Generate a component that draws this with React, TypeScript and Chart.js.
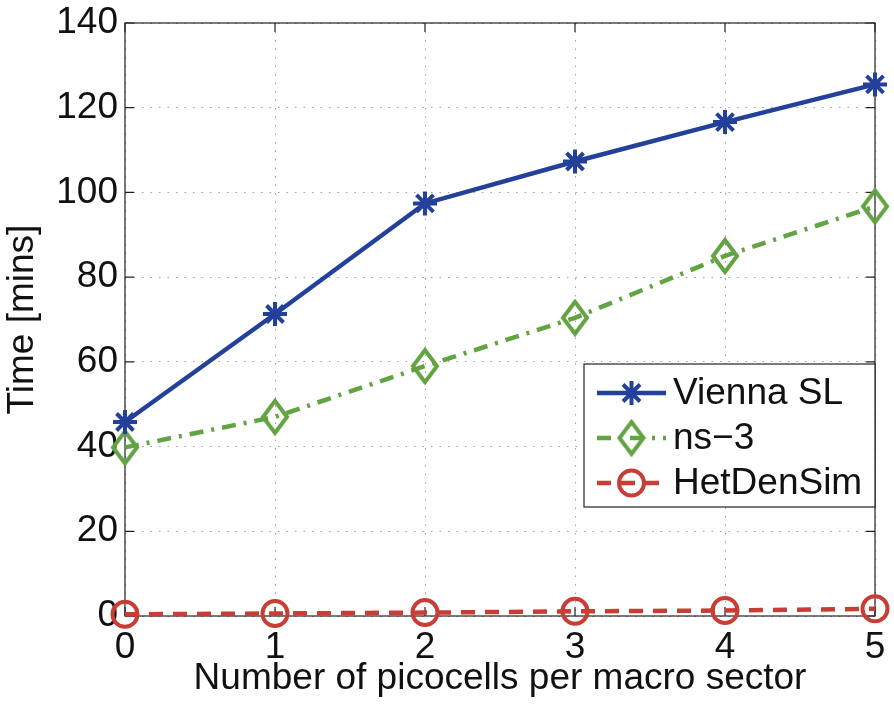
import React, { useEffect, useRef } from "react";
import { Chart, registerables } from "chart.js";

Chart.register(...registerables);

const xValues = [0, 1, 2, 3, 4, 5];
const viennaSL = [45.8, 71.3, 97.4, 107.3, 116.6, 125.5];
const ns3 = [39.8, 47.0, 59.0, 70.4, 85.0, 96.7];
const hetDenSim = [0.4, 0.6, 0.8, 1.1, 1.3, 1.7];
const seriesNames = ["Vienna SL", "ns\u22123", "HetDenSim"];

const FONT = "'Liberation Sans', Arial, Helvetica, sans-serif";
const FS = 37;
const BLUE = "rgb(35,64,155)";
const GREEN = "rgb(98,163,66)";
const RED = "rgb(200,62,52)";

function makeDiamond(color: string) {
  const c = document.createElement("canvas");
  const w = 30, h = 38;
  c.width = w;
  c.height = h;
  const ctx = c.getContext("2d")!;
  ctx.strokeStyle = color;
  ctx.lineWidth = 4;
  ctx.lineJoin = "miter";
  ctx.beginPath();
  ctx.moveTo(w / 2, 3);
  ctx.lineTo(w - 3, h / 2);
  ctx.lineTo(w / 2, h - 3);
  ctx.lineTo(3, h / 2);
  ctx.closePath();
  ctx.stroke();
  return c;
}

function drawMarker(ctx: CanvasRenderingContext2D, ds: any, x: number, y: number) {
  const style = ds.pointStyle;
  ctx.save();
  ctx.strokeStyle = ds.pointBorderColor;
  ctx.lineWidth = ds.pointBorderWidth;
  ctx.setLineDash([]);
  if (style instanceof HTMLCanvasElement) {
    ctx.drawImage(style, x - style.width / 2, y - style.height / 2);
  } else if (style === "circle") {
    ctx.beginPath();
    ctx.arc(x, y, ds.pointRadius, 0, Math.PI * 2);
    ctx.stroke();
  } else if (style === "star") {
    const r = ds.pointRadius;
    ctx.beginPath();
    for (let i = 0; i < 4; i++) {
      const a = (i * Math.PI) / 4;
      ctx.moveTo(x - Math.cos(a) * r, y - Math.sin(a) * r);
      ctx.lineTo(x + Math.cos(a) * r, y + Math.sin(a) * r);
    }
    ctx.stroke();
  }
  ctx.restore();
}

const framePlugin = {
  id: "frame",
  beforeDatasetsDraw(chart: any) {
    const { ctx, chartArea: a, scales } = chart;
    ctx.save();
    ctx.strokeStyle = "#222";
    ctx.lineWidth = 1.2;
    ctx.setLineDash([]);
    ctx.strokeRect(a.left, a.top, a.right - a.left, a.bottom - a.top);
    const tl = 9;
    ctx.beginPath();
    scales.x.ticks.forEach((t: any) => {
      const px = scales.x.getPixelForValue(t.value);
      ctx.moveTo(px, a.bottom);
      ctx.lineTo(px, a.bottom - tl);
      ctx.moveTo(px, a.top);
      ctx.lineTo(px, a.top + tl);
    });
    scales.y.ticks.forEach((t: any) => {
      const py = scales.y.getPixelForValue(t.value);
      ctx.moveTo(a.left, py);
      ctx.lineTo(a.left + tl, py);
      ctx.moveTo(a.right, py);
      ctx.lineTo(a.right - tl, py);
    });
    ctx.stroke();
    ctx.restore();
  },
};

const legendPlugin = {
  id: "boxLegend",
  afterDatasetsDraw(chart: any) {
    const { ctx, chartArea: a } = chart;
    const w = 291, h = 143;
    const x0 = a.right - w;
    const y0 = a.bottom - 109 - h;
    ctx.save();
    ctx.fillStyle = "#fff";
    ctx.fillRect(x0, y0, w, h);
    ctx.strokeStyle = "#222";
    ctx.lineWidth = 1.2;
    ctx.setLineDash([]);
    ctx.strokeRect(x0, y0, w, h);
    chart.data.datasets.forEach((ds: any, i: number) => {
      const cy = y0 + 29 + i * 45;
      const lx1 = x0 + 13, lx2 = x0 + 82;
      ctx.save();
      ctx.strokeStyle = ds.borderColor;
      ctx.lineWidth = ds.borderWidth;
      ctx.setLineDash(ds.borderDash || []);
      ctx.beginPath();
      ctx.moveTo(lx1, cy);
      ctx.lineTo(lx2, cy);
      ctx.stroke();
      ctx.restore();
      drawMarker(ctx, ds, (lx1 + lx2) / 2, cy);
      ctx.fillStyle = "#111";
      ctx.font = `${FS}px ${FONT}`;
      ctx.textBaseline = "middle";
      ctx.textAlign = "left";
      ctx.fillText(ds.label, x0 + 89, cy + 1);
    });
    ctx.restore();
  },
};

export default function App() {
  const ref = useRef<HTMLCanvasElement | null>(null);
  useEffect(() => {
    if (!ref.current) return;
    const toPts = (arr: number[]) => arr.map((y, i) => ({ x: xValues[i], y }));
    const chart = new Chart(ref.current, {
      type: "line",
      data: {
        datasets: [
          {
            label: seriesNames[0],
            data: toPts(viennaSL),
            borderColor: BLUE,
            borderWidth: 4.5,
            pointStyle: "star",
            pointRadius: 12,
            pointBorderWidth: 4,
            pointBorderColor: BLUE,
            pointBackgroundColor: BLUE,
          },
          {
            label: seriesNames[1],
            data: toPts(ns3),
            borderColor: GREEN,
            borderWidth: 4.5,
            borderDash: [14, 8, 3, 8],
            pointStyle: makeDiamond(GREEN) as any,
            pointRadius: 15,
            pointBorderWidth: 4,
            pointBorderColor: GREEN,
            pointBackgroundColor: "rgba(0,0,0,0)",
          },
          {
            label: seriesNames[2],
            data: toPts(hetDenSim),
            borderColor: RED,
            borderWidth: 4.5,
            borderDash: [14, 10],
            pointStyle: "circle",
            pointRadius: 12.5,
            pointBorderWidth: 4,
            pointBorderColor: RED,
            pointBackgroundColor: "rgba(0,0,0,0)",
          },
        ] as any,
      },
      options: {
        animation: false,
        responsive: false,
        maintainAspectRatio: false,
        clip: false as any,
        layout: { padding: { top: 23, right: 12, left: 0, bottom: 0 } },
        plugins: { legend: { display: false }, tooltip: { enabled: false } },
        scales: {
          x: {
            type: "linear",
            min: 0,
            max: 5,
            ticks: { stepSize: 1, color: "#111", padding: 10, font: { family: FONT, size: FS } },
            grid: { color: "#a0a0a0", drawTicks: false, lineWidth: 1 } as any,
            border: { display: false, dash: [1.5, 7] } as any,
            title: {
              display: true,
              text: "Number of picocells per macro sector",
              color: "#111",
              font: { family: FONT, size: FS },
              padding: { top: 0, bottom: 3 },
            },
            afterFit(scale: any) {
              scale.height = 88;
              scale.paddingLeft = 0;
              scale.paddingRight = 0;
            },
          },
          y: {
            type: "linear",
            min: 0,
            max: 140,
            ticks: { stepSize: 20, color: "#111", padding: 7, font: { family: FONT, size: FS } },
            grid: { color: "#a0a0a0", drawTicks: false, lineWidth: 1 } as any,
            border: { display: false, dash: [1.5, 7] } as any,
            title: {
              display: true,
              text: "Time [mins]",
              color: "#111",
              font: { family: FONT, size: FS },
              padding: { top: 1, bottom: 0 },
            },
            afterFit(scale: any) {
              scale.width = 125;
              scale.paddingTop = 0;
              scale.paddingBottom = 0;
            },
          },
        },
      },
      plugins: [framePlugin, legendPlugin],
    });
    return () => chart.destroy();
  }, []);
  return (
    <div style={{ position: "fixed", left: 0, top: 0, width: 894, height: 704, background: "#fff" }}>
      <canvas ref={ref} width={894} height={704} style={{ display: "block" }} />
    </div>
  );
}
